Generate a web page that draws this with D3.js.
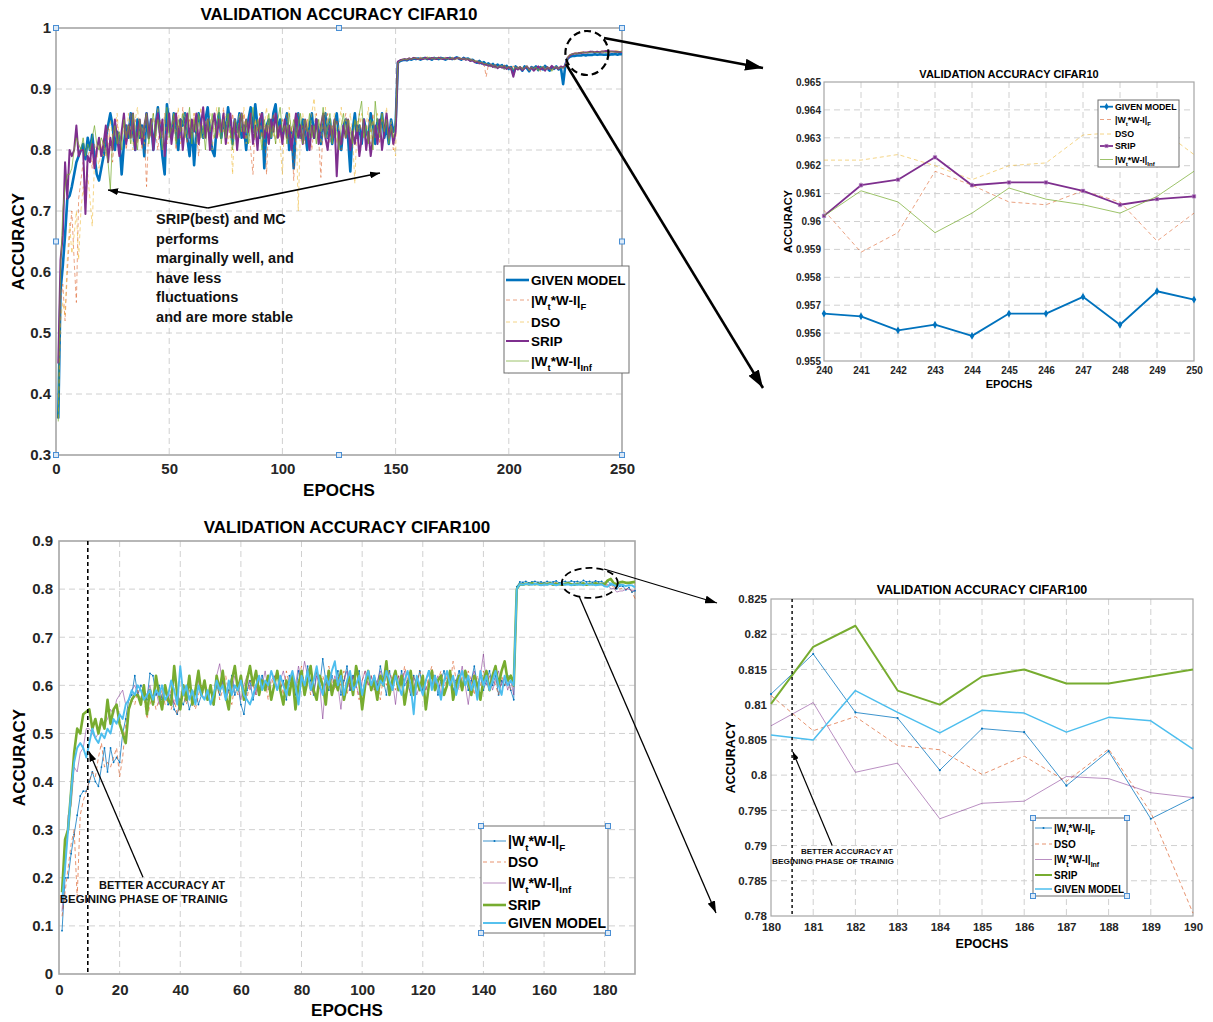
<!DOCTYPE html>
<html>
<head>
<meta charset="utf-8">
<script src="https://cdn.jsdelivr.net/npm/d3@7"></script>
<style>
body { margin: 0; background: #fff; }
text { font-family: Arial, "Liberation Sans", Helvetica, sans-serif; font-weight: bold; }
</style>
</head>
<body>
<svg width="1213" height="1022"></svg>
<script>
// CIFAR10 validation accuracy, epochs 1..250
const top10Given = [
.36,.57,.61,.66,.72,.725,.74,.76,.78,.79,
.80,.81,.785,.82,.80,.825,.79,.76,.75,.77,
.79,.82,.84,.86,.84,.80,.83,.82,.76,.81,
.84,.82,.86,.83,.80,.85,.82,.84,.79,.86,
.82,.85,.80,.84,.87,.83,.79,.76,.875,.84,
.82,.86,.83,.80,.85,.84,.86,.82,.79,.84,
.775,.83,.86,.84,.82,.85,.87,.83,.80,.79,
.84,.86,.82,.85,.83,.87,.84,.81,.85,.83,
.86,.82,.84,.80,.85,.87,.83,.875,.84,.82,
.86,.77,.84,.85,.82,.86,.875,.83,.85,.82,
.84,.86,.80,.83,.77,.84,.86,.82,.85,.83,
.80,.84,.86,.82,.85,.83,.81,.84,.86,.82,
.85,.81,.84,.86,.82,.80,.84,.85,.82,.765,
.83,.86,.82,.84,.81,.85,.83,.82,.86,.84,
.81,.85,.83,.86,.82,.84,.81,.85,.83,.84,
.943,.946,.947,.948,.947,.949,.948,.950,.949,.950,
.948,.950,.951,.949,.950,.948,.951,.950,.949,.951,
.950,.948,.950,.951,.949,.950,.952,.950,.948,.951,
.949,.950,.947,.948,.945,.943,.946,.942,.944,.940,
.942,.938,.941,.936,.940,.937,.939,.934,.938,.933,
.936,.925,.937,.933,.935,.930,.937,.934,.929,.936,
.933,.937,.931,.936,.932,.938,.934,.930,.936,.933,
.937,.932,.935,.908,.940,.950,.953,.954,.954,.955,
.955,.955,.956,.955,.956,.956,.956,.957,.956,.9567,
.9566,.9561,.9563,.9559,.9567,.9567,.9573,.9563,.9575,.9572]
const top10F = [
.36,.55,.58,.52,.60,.66,.70,.62,.55,.72,
.75,.78,.73,.79,.80,.77,.81,.79,.82,.80,
.82,.79,.84,.81,.78,.83,.85,.80,.82,.84,
.80,.83,.86,.82,.85,.81,.84,.80,.83,.74,
.84,.82,.86,.83,.80,.85,.82,.86,.81,.84,
.83,.86,.80,.84,.82,.87,.83,.81,.85,.82,
.86,.83,.79,.84,.87,.82,.85,.80,.84,.86,
.82,.85,.83,.87,.81,.84,.82,.86,.83,.80,
.85,.83,.86,.82,.84,.80,.76,.85,.83,.86,
.82,.84,.76,.85,.83,.86,.81,.84,.82,.85,
.83,.86,.81,.84,.75,.83,.86,.82,.84,.81,
.85,.83,.80,.84,.86,.82,.755,.84,.83,.86,
.81,.84,.82,.85,.83,.80,.84,.86,.82,.84,
.81,.85,.83,.86,.82,.84,.80,.85,.83,.86,
.82,.84,.81,.86,.83,.85,.82,.84,.80,.83,
.944,.947,.948,.949,.948,.950,.949,.951,.950,.949,
.951,.949,.950,.952,.950,.949,.951,.950,.952,.950,
.949,.951,.950,.948,.951,.950,.949,.951,.950,.948,
.950,.947,.949,.945,.947,.943,.945,.941,.943,.920,
.940,.937,.942,.935,.939,.936,.940,.933,.937,.935,
.932,.938,.934,.937,.931,.936,.933,.938,.930,.935,
.937,.932,.936,.929,.935,.938,.933,.936,.931,.937,
.934,.938,.935,.937,.940,.952,.956,.957,.958,.958,
.959,.959,.960,.959,.960,.960,.961,.960,.961,.9604,
.9589,.9596,.9618,.9613,.9607,.9606,.9611,.9607,.9593,.9603]
const top10Dso = [
.36,.52,.55,.53,.62,.68,.63,.66,.70,.62,
.70,.74,.70,.76,.72,.675,.78,.80,.77,.81,
.79,.83,.80,.85,.82,.84,.86,.81,.83,.85,
.82,.86,.83,.80,.85,.87,.82,.84,.81,.86,
.83,.85,.81,.84,.87,.82,.85,.80,.84,.86,
.82,.85,.83,.87,.81,.84,.86,.82,.85,.83,
.86,.81,.84,.87,.82,.85,.83,.86,.80,.84,
.87,.82,.85,.83,.86,.81,.84,.76,.85,.82,
.86,.83,.87,.81,.84,.86,.82,.85,.83,.86,
.81,.84,.87,.83,.85,.82,.86,.84,.81,.76,
.85,.83,.87,.82,.84,.86,.70,.84,.86,.83,
.85,.82,.86,.885,.83,.85,.81,.84,.87,.82,
.85,.83,.86,.81,.84,.87,.82,.85,.83,.86,
.82,.745,.85,.83,.86,.82,.84,.87,.81,.85,
.83,.86,.82,.85,.84,.87,.82,.85,.81,.79,
.944,.948,.949,.950,.949,.951,.950,.952,.951,.950,
.952,.950,.951,.953,.951,.950,.952,.951,.953,.951,
.950,.952,.951,.949,.952,.951,.950,.952,.951,.949,
.951,.948,.950,.946,.948,.944,.946,.942,.944,.939,
.941,.936,.940,.934,.938,.935,.939,.932,.936,.934,
.931,.937,.933,.936,.930,.935,.932,.937,.929,.934,
.936,.931,.935,.928,.934,.937,.932,.935,.930,.936,
.933,.937,.934,.936,.939,.953,.957,.958,.959,.960,
.960,.961,.961,.962,.961,.962,.962,.961,.962,.9622,
.9622,.9624,.9620,.9615,.9620,.9621,.9631,.9632,.9634,.9624]
const top10Srip = [
.45,.62,.66,.78,.72,.80,.79,.80,.84,.79,
.80,.80,.695,.79,.78,.81,.77,.80,.82,.79,
.81,.84,.78,.82,.80,.85,.82,.79,.83,.86,
.81,.84,.82,.86,.80,.83,.85,.81,.84,.86,
.82,.85,.80,.84,.86,.82,.85,.79,.83,.86,
.81,.84,.86,.82,.85,.80,.84,.86,.82,.85,
.83,.86,.81,.84,.87,.82,.85,.80,.84,.86,
.82,.85,.83,.86,.81,.84,.86,.82,.85,.80,
.84,.86,.82,.85,.83,.86,.81,.84,.80,.85,
.86,.82,.84,.81,.85,.83,.86,.82,.84,.81,
.85,.82,.84,.80,.83,.86,.82,.84,.81,.85,
.83,.80,.84,.82,.85,.81,.84,.86,.82,.80,
.84,.82,.85,.757,.83,.81,.84,.82,.85,.80,
.83,.81,.84,.79,.82,.85,.80,.83,.79,.82,
.84,.81,.85,.80,.83,.86,.82,.84,.81,.83,
.945,.947,.948,.949,.948,.950,.949,.951,.950,.949,
.950,.949,.951,.950,.949,.951,.950,.949,.951,.950,
.949,.950,.951,.949,.950,.949,.951,.950,.949,.950,
.948,.949,.946,.947,.944,.945,.942,.943,.940,.941,
.938,.940,.936,.939,.934,.937,.935,.938,.933,.936,
.934,.920,.935,.932,.936,.931,.934,.937,.932,.935,
.930,.934,.937,.932,.935,.930,.936,.933,.938,.934,
.936,.933,.937,.935,.939,.951,.955,.957,.958,.958,
.959,.959,.960,.960,.960,.961,.961,.960,.961,.9602,
.9613,.9615,.9623,.9613,.9614,.9614,.9611,.9606,.9608,.9609]
const top10Inf = [
.355,.60,.70,.74,.76,.76,.77,.80,.82,.81,
.80,.82,.79,.81,.80,.82,.84,.81,.80,.82,
.81,.80,.78,.735,.82,.84,.81,.83,.80,.85,
.82,.84,.81,.86,.83,.80,.85,.82,.84,.86,
.81,.84,.86,.82,.85,.83,.80,.85,.87,.82,
.84,.86,.81,.85,.83,.86,.82,.84,.87,.81,
.85,.83,.86,.82,.84,.80,.85,.83,.86,.82,
.84,.87,.81,.85,.82,.86,.83,.80,.85,.84,
.82,.86,.83,.85,.81,.84,.87,.82,.85,.83,
.80,.85,.83,.86,.82,.84,.81,.85,.87,.83,
.84,.81,.86,.83,.85,.82,.84,.86,.81,.85,
.83,.86,.82,.84,.81,.85,.83,.87,.82,.84,
.86,.81,.85,.83,.80,.84,.86,.82,.85,.83,
.81,.85,.83,.86,.88,.82,.84,.81,.85,.80,
.88,.84,.82,.86,.83,.85,.81,.84,.82,.85,
.943,.946,.948,.949,.948,.950,.949,.950,.951,.949,
.950,.951,.949,.950,.952,.950,.949,.951,.950,.949,
.951,.950,.949,.951,.950,.948,.950,.951,.949,.950,
.948,.950,.947,.948,.945,.946,.943,.944,.941,.942,
.939,.941,.937,.940,.935,.938,.936,.939,.934,.937,
.935,.931,.936,.933,.937,.932,.935,.938,.931,.936,
.933,.936,.930,.935,.937,.932,.936,.934,.929,.935,
.937,.933,.936,.934,.938,.952,.956,.957,.958,.958,
.959,.959,.960,.959,.960,.960,.961,.960,.960,.9602,
.9611,.9607,.9596,.9603,.9612,.9608,.9606,.9603,.9609,.9618]

// CIFAR100 validation accuracy, epochs 1..190
const c100F = [
.09,.20,.20,.25,.29,.33,.37,.38,.38,.40,
.42,.40,.39,.43,.47,.42,.47,.44,.45,.44,
.50,.53,.57,.58,.62,.58,.60,.59,.57,.625,
.62,.58,.60,.57,.59,.56,.58,.55,.54,.57,
.56,.58,.55,.57,.59,.56,.58,.60,.57,.59,
.56,.60,.58,.61,.57,.59,.62,.58,.60,.56,
.54,.59,.61,.57,.60,.58,.62,.59,.61,.58,
.60,.63,.59,.61,.57,.62,.60,.58,.63,.61,
.59,.64,.61,.58,.63,.60,.655,.61,.59,.62,
.60,.63,.58,.61,.64,.59,.62,.60,.63,.58,
.61,.63,.59,.62,.60,.64,.61,.58,.63,.60,
.62,.59,.63,.60,.61,.58,.62,.60,.63,.59,
.61,.63,.60,.62,.58,.61,.63,.60,.62,.59,
.61,.63,.60,.62,.59,.61,.64,.60,.62,.59,
.61,.63,.60,.62,.58,.61,.60,.62,.59,.57,
.805,.815,.814,.816,.813,.815,.816,.814,.815,.813,
.816,.814,.815,.817,.813,.815,.816,.814,.817,.815,
.816,.814,.818,.815,.816,.814,.817,.815,.816,.8115,
.8172,.8089,.8081,.8007,.8066,.8061,.7985,.8034,.7938,.7968]
const c100Dso = [
.12,.17,.22,.27,.30,.16,.33,.36,.38,.40,
.42,.41,.45,.48,.43,.44,.43,.45,.47,.41,
.45,.52,.55,.57,.56,.59,.57,.58,.53,.56,
.58,.55,.57,.59,.56,.58,.55,.57,.54,.56,
.58,.56,.59,.57,.55,.58,.60,.57,.59,.56,
.58,.61,.57,.59,.62,.58,.56,.60,.58,.61,
.59,.57,.61,.60,.58,.62,.59,.61,.57,.60,
.62,.59,.61,.58,.63,.60,.62,.59,.61,.64,
.60,.62,.58,.61,.63,.59,.62,.60,.64,.61,
.59,.62,.60,.63,.58,.61,.62,.60,.57,.61,
.63,.60,.62,.59,.61,.57,.62,.60,.63,.61,
.59,.62,.60,.64,.61,.58,.62,.60,.63,.61,
.59,.62,.64,.60,.61,.63,.59,.62,.60,.65,
.61,.59,.62,.60,.63,.61,.58,.62,.60,.63,
.61,.59,.62,.60,.58,.62,.60,.61,.59,.60,
.800,.812,.811,.813,.810,.812,.811,.813,.812,.810,
.813,.811,.812,.814,.810,.812,.813,.811,.812,.810,
.812,.811,.813,.810,.812,.811,.813,.810,.812,.8113,
.8063,.8083,.8042,.8036,.8001,.8027,.7991,.8037,.7947,.7804]
const c100Inf = [
.13,.22,.33,.35,.43,.42,.46,.47,.51,.51,
.50,.49,.50,.52,.52,.53,.55,.54,.57,.58,
.59,.56,.57,.59,.60,.58,.57,.59,.58,.60,
.57,.59,.56,.58,.60,.57,.59,.56,.58,.57,
.59,.60,.57,.59,.58,.61,.58,.60,.57,.59,
.58,.62,.645,.60,.58,.61,.59,.62,.60,.57,
.60,.62,.59,.61,.58,.62,.60,.63,.59,.61,
.62,.59,.61,.63,.60,.58,.62,.60,.64,.61,
.65,.62,.60,.58,.62,.60,.53,.61,.63,.59,
.62,.60,.55,.61,.63,.59,.62,.60,.58,.61,
.63,.60,.62,.59,.61,.63,.60,.62,.59,.61,
.56,.62,.60,.63,.59,.62,.61,.58,.60,.62,
.59,.61,.63,.60,.62,.58,.61,.63,.60,.62,
.59,.61,.64,.60,.56,.61,.63,.59,.62,.665,
.60,.62,.59,.61,.63,.60,.62,.59,.61,.58,
.800,.810,.809,.811,.808,.810,.809,.811,.810,.808,
.810,.809,.811,.808,.810,.809,.811,.810,.808,.810,
.809,.811,.810,.808,.810,.809,.811,.810,.809,.8070,
.8103,.8004,.8017,.7938,.7960,.7963,.7998,.7995,.7975,.7968]
const c100Srip = [
.17,.28,.30,.38,.46,.51,.50,.54,.545,.55,
.51,.53,.50,.53,.51,.57,.52,.55,.56,.52,
.50,.48,.55,.57,.58,.58,.56,.60,.54,.59,
.56,.62,.58,.55,.60,.57,.56,.64,.58,.55,
.60,.57,.62,.56,.59,.63,.58,.61,.57,.60,
.56,.62,.59,.63,.58,.55,.61,.64,.59,.62,
.57,.61,.64,.60,.63,.58,.61,.59,.62,.57,
.60,.63,.59,.56,.61,.58,.62,.55,.60,.63,
.58,.61,.64,.59,.57,.62,.60,.56,.63,.58,
.61,.59,.63,.57,.60,.62,.58,.64,.61,.55,
.60,.63,.59,.61,.57,.62,.60,.65,.58,.61,
.63,.59,.62,.56,.60,.63,.58,.61,.59,.62,
.55,.60,.63,.59,.61,.62,.58,.60,.63,.57,
.60,.62,.59,.63,.61,.58,.62,.60,.57,.61,
.63,.59,.62,.64,.60,.63,.65,.61,.62,.60,
.800,.810,.809,.811,.810,.812,.810,.811,.809,.811,
.810,.812,.809,.811,.810,.809,.811,.812,.810,.809,
.811,.810,.812,.809,.811,.810,.812,.810,.811,.8101,
.8182,.8212,.812,.810,.814,.815,.813,.813,.814,.815]
const c100Given = [
.15,.22,.30,.38,.44,.47,.48,.47,.45,.48,
.51,.49,.48,.50,.49,.51,.50,.53,.52,.54,
.53,.56,.57,.59,.58,.60,.59,.57,.58,.59,
.57,.59,.58,.60,.57,.58,.61,.59,.56,.64,
.58,.60,.57,.59,.56,.60,.58,.57,.59,.56,
.58,.61,.59,.60,.57,.61,.58,.60,.59,.61,
.58,.57,.56,.58,.60,.62,.59,.61,.60,.63,
.61,.59,.62,.60,.58,.61,.63,.60,.56,.62,
.60,.63,.59,.61,.64,.60,.58,.62,.60,.63,
.65,.60,.62,.58,.61,.63,.59,.60,.62,.58,
.61,.63,.60,.62,.59,.61,.60,.63,.61,.59,
.62,.60,.58,.61,.63,.60,.54,.62,.60,.58,
.61,.63,.59,.62,.60,.57,.61,.63,.60,.62,
.58,.61,.63,.60,.62,.59,.61,.57,.63,.60,
.62,.59,.61,.63,.60,.58,.62,.60,.61,.60,
.800,.810,.809,.811,.810,.809,.811,.810,.808,.810,
.809,.811,.810,.808,.810,.811,.809,.810,.808,.810,
.809,.810,.808,.811,.809,.810,.808,.809,.810,.8057,
.8050,.8120,.8089,.8060,.8092,.8088,.8061,.8082,.8077,.8037]

const namesTop = ["GIVEN MODEL", "|W_{t}*W-I|_{F}", "DSO", "SRIP", "|W_{t}*W-I|_{Inf}"]
const namesBottom = ["|W_{t}*W-I|_{F}", "DSO", "|W_{t}*W-I|_{Inf}", "SRIP", "GIVEN MODEL"]

const xTicksA = [0, 50, 100, 150, 200, 250]
const yTicksA = [0.3, 0.4, 0.5, 0.6, 0.7, 0.8, 0.9, 1]
const xTicksB = [240, 241, 242, 243, 244, 245, 246, 247, 248, 249, 250]
const yTicksB = [0.955, 0.956, 0.957, 0.958, 0.959, 0.96, 0.961, 0.962, 0.963, 0.964, 0.965]
const xTicksC = [0, 20, 40, 60, 80, 100, 120, 140, 160, 180]
const yTicksC = [0, 0.1, 0.2, 0.3, 0.4, 0.5, 0.6, 0.7, 0.8, 0.9]
const xTicksD = [180, 181, 182, 183, 184, 185, 186, 187, 188, 189, 190]
const yTicksD = [0.78, 0.785, 0.79, 0.795, 0.8, 0.805, 0.81, 0.815, 0.82, 0.825]

const noteTop = ["SRIP(best) and MC", "performs", "marginally well, and", "have less", "fluctuations", "and are more stable"]
const noteBottom = ["BETTER ACCURACY AT", "BEGINING PHASE OF TRAINIG"]

const svg = d3.select("svg")
const defs = svg.append("defs")
const fmt = d => String(+d.toFixed(4))

function arrowHead(id, len, wid) {
    defs.append("marker")
        .attr("id", id)
        .attr("markerUnits", "userSpaceOnUse")
        .attr("markerWidth", len)
        .attr("markerHeight", wid)
        .attr("refX", len)
        .attr("refY", wid / 2)
        .attr("orient", "auto")
        .append("path")
        .attr("d", `M0,0L${len},${wid / 2}L0,${wid}Z`)
        .attr("fill", "#000")
}
arrowHead("hBig", 18, 12)
arrowHead("hMid", 12, 8)
arrowHead("hSmall", 10, 7)
arrowHead("hTiny", 8, 6)

function label(x, y, str, fs, rotate) {
    const t = svg.append("text")
        .attr("x", x).attr("y", y)
        .attr("dy", "0.36em")
        .attr("text-anchor", "middle")
        .style("font-size", fs + "px")
        .attr("fill", "#000")
        .text(str)
    if (rotate) t.attr("transform", `rotate(-90,${x},${y})`)
    return t
}

let clipId = 0
function panel(o) {
    const x = d3.scaleLinear().domain(o.xDomain).range([o.left, o.right])
    const y = d3.scaleLinear().domain(o.yDomain).range([o.bottom, o.top])
    const g = svg.append("g")

    g.append("rect")
        .attr("x", o.left).attr("y", o.top)
        .attr("width", o.right - o.left).attr("height", o.bottom - o.top)
        .attr("fill", "#fff")

    g.append("g").selectAll("line")
        .data(o.xTicks.filter(d => d > o.xDomain[0] && d < o.xDomain[1]))
        .enter().append("line")
        .attr("x1", d => x(d)).attr("x2", d => x(d))
        .attr("y1", o.top).attr("y2", o.bottom)
        .attr("stroke", "#d0d0d0").attr("stroke-dasharray", "6,4")

    g.append("g").selectAll("line")
        .data(o.yTicks.filter(d => d > o.yDomain[0] && d < o.yDomain[1]))
        .enter().append("line")
        .attr("y1", d => y(d)).attr("y2", d => y(d))
        .attr("x1", o.left).attr("x2", o.right)
        .attr("stroke", "#d0d0d0").attr("stroke-dasharray", "6,4")

    g.append("rect")
        .attr("x", o.left).attr("y", o.top)
        .attr("width", o.right - o.left).attr("height", o.bottom - o.top)
        .attr("fill", "none").attr("stroke", "#a6a6a6").attr("stroke-width", o.boxW || 1.3)

    const xAxis = g.append("g")
        .attr("transform", `translate(0,${o.bottom})`)
        .call(d3.axisBottom(x).tickValues(o.xTicks).tickSize(0).tickPadding(o.xPad).tickFormat(fmt))
    const yAxis = g.append("g")
        .attr("transform", `translate(${o.left},0)`)
        .call(d3.axisLeft(y).tickValues(o.yTicks).tickSize(0).tickPadding(o.yPad).tickFormat(fmt))
    ;[xAxis, yAxis].forEach(a => {
        a.attr("font-family", null).attr("font-size", null)
        a.select(".domain").remove()
        a.selectAll("text").style("font-size", o.tickFs + "px").attr("fill", "#262626")
    })

    label((o.left + o.right) / 2, o.titleY, o.title, o.titleFs)
    label((o.left + o.right) / 2, o.xlabY, "EPOCHS", o.labFs)
    label(o.ylabX, (o.top + o.bottom) / 2, "ACCURACY", o.labFs, true)

    const id = "clip" + (clipId++)
    defs.append("clipPath").attr("id", id)
        .append("rect")
        .attr("x", o.left - 3).attr("y", o.top - 3)
        .attr("width", o.right - o.left + 6).attr("height", o.bottom - o.top + 6)
    const plot = svg.append("g").attr("clip-path", `url(#${id})`)

    return { x, y, g, plot, o }
}

function handle(x, y) {
    svg.append("rect")
        .attr("x", x - 2.5).attr("y", y - 2.5)
        .attr("width", 5).attr("height", 5)
        .attr("fill", "#dbe9f7").attr("stroke", "#4a8fd4").attr("stroke-width", 1)
}

function marker(sel, kind, color, cx, cy, scale) {
    if (!kind) return
    const size = { diamond: 22, square: 14, dot: 5 }[kind] * (scale || 1)
    const type = { diamond: d3.symbolDiamond, square: d3.symbolSquare, dot: d3.symbolCircle }[kind]
    sel.append("path")
        .attr("d", d3.symbol().type(type).size(size)())
        .attr("transform", `translate(${cx},${cy})`)
        .attr("fill", color)
        .attr("stroke", kind === "square" ? "#b07cc0" : "none")
        .attr("stroke-width", 0.6)
}

function drawSeries(p, s, firstEpoch, width, mark, mscale) {
    const pts = s.vals.map((v, i) => [i + 1, v]).filter(d => d[0] >= firstEpoch)
    const line = d3.line().x(d => p.x(d[0])).y(d => p.y(d[1]))
    p.plot.append("path")
        .attr("d", line(pts))
        .attr("fill", "none")
        .attr("stroke", s.color)
        .attr("stroke-width", width)
        .attr("stroke-opacity", s.op || 1)
        .attr("stroke-dasharray", s.dash || null)
        .attr("stroke-linejoin", "round")
    if (mark) pts.forEach(d => marker(p.plot, mark, s.color, p.x(d[0]), p.y(d[1]), mscale))
}

function parts(str) { return str.split(/_\{([^}]*)\}/) }

function legend(items, o) {
    const g = svg.append("g")
    g.append("rect")
        .attr("x", o.x0).attr("y", o.y0)
        .attr("width", o.x1 - o.x0).attr("height", o.y1 - o.y0)
        .attr("fill", "#fff").attr("stroke", "#6e6e6e").attr("stroke-width", 1)
    items.forEach((s, i) => {
        const yy = o.ys[i]
        g.append("line")
            .attr("x1", o.lx0).attr("x2", o.lx1).attr("y1", yy).attr("y2", yy)
            .attr("stroke", s.color).attr("stroke-width", s.lw)
            .attr("stroke-opacity", s.op || 1)
            .attr("stroke-dasharray", s.dash || null)
        marker(g, s.mark, s.color, (o.lx0 + o.lx1) / 2, yy, o.mscale)
        const t = g.append("text")
            .attr("x", o.tx).attr("y", yy)
            .attr("dy", "0.36em")
            .style("font-size", o.fs + "px")
            .attr("fill", "#000")
        const sh = o.fs * 0.38
        let down = false
        parts(s.name).forEach((txt, k) => {
            if (!txt) return
            const sub = k % 2 === 1
            const ts = t.append("tspan").text(txt)
            if (sub) { ts.attr("dy", sh).style("font-size", (o.fs * 0.7) + "px"); down = true }
            else if (down) { ts.attr("dy", -sh); down = false }
        })
    })
    if (o.handles) {
        ;[[o.x0, o.y0], [o.x1, o.y0], [o.x0, o.y1], [o.x1, o.y1]].forEach(d => handle(d[0], d[1]))
    }
}

function arrow(x1, y1, x2, y2, w, head) {
    svg.append("line")
        .attr("x1", x1).attr("y1", y1).attr("x2", x2).attr("y2", y2)
        .attr("stroke", "#000").attr("stroke-width", w)
        .attr("marker-end", `url(#${head})`)
}

function ellipse(cx, cy, rx, ry, w) {
    svg.append("ellipse")
        .attr("cx", cx).attr("cy", cy).attr("rx", rx).attr("ry", ry)
        .attr("fill", "none").attr("stroke", "#000")
        .attr("stroke-width", w).attr("stroke-dasharray", "7,4")
}

// ---------- series styles ----------
const topSeries = [
    { name: namesTop[0], vals: top10Given, color: "#0072BD", w: 2.6, wz: 1.8, mark: "diamond" },
    { name: namesTop[1], vals: top10F, color: "#D95319", w: 0.9, wz: 0.9, dash: "4,3", op: 0.6 },
    { name: namesTop[2], vals: top10Dso, color: "#EDB120", w: 0.9, wz: 0.9, dash: "4,3", op: 0.6 },
    { name: namesTop[3], vals: top10Srip, color: "#7E2F8E", w: 2.0, wz: 1.8, mark: "square" },
    { name: namesTop[4], vals: top10Inf, color: "#77AC30", w: 0.9, wz: 0.9, op: 0.8 }
]
const bottomSeries = [
    { name: namesBottom[0], vals: c100F, color: "#0072BD", w: 0.9, wz: 0.9, mark: "dot", op: 0.85 },
    { name: namesBottom[1], vals: c100Dso, color: "#D95319", w: 0.9, wz: 0.9, dash: "4,3", op: 0.7 },
    { name: namesBottom[2], vals: c100Inf, color: "#7E2F8E", w: 0.9, wz: 0.9, op: 0.6 },
    { name: namesBottom[3], vals: c100Srip, color: "#77AC30", w: 2.6, wz: 2.0 },
    { name: namesBottom[4], vals: c100Given, color: "#4DBEEE", w: 1.9, wz: 1.5 }
]

// ---------- panel A: CIFAR10 full ----------
const A = panel({
    left: 56, right: 622, top: 28, bottom: 455,
    xDomain: [0, 250], yDomain: [0.3, 1], xTicks: xTicksA, yTicks: yTicksA,
    tickFs: 15, xPad: 8, yPad: 5,
    title: "VALIDATION ACCURACY CIFAR10", titleY: 14, titleFs: 17,
    xlabY: 490, ylabX: 18, labFs: 17, boxW: 1.6
})
topSeries.forEach(s => drawSeries(A, s, 1, s.w))

// ---------- panel B: CIFAR10 zoom ----------
const B = panel({
    left: 824, right: 1194, top: 82, bottom: 361,
    xDomain: [240, 250], yDomain: [0.955, 0.965], xTicks: xTicksB, yTicks: yTicksB,
    tickFs: 10, xPad: 6, yPad: 3,
    title: "VALIDATION ACCURACY CIFAR10", titleY: 74, titleFs: 11,
    xlabY: 384, ylabX: 788, labFs: 11, boxW: 1.2
})
topSeries.forEach(s => drawSeries(B, s, 240, s.wz, s.mark, 0.8))

// ---------- panel C: CIFAR100 full ----------
const C = panel({
    left: 59, right: 635, top: 541, bottom: 974,
    xDomain: [0, 190], yDomain: [0, 0.9], xTicks: xTicksC, yTicks: yTicksC,
    tickFs: 15, xPad: 10, yPad: 6,
    title: "VALIDATION ACCURACY CIFAR100", titleY: 527, titleFs: 17,
    xlabY: 1010, ylabX: 19, labFs: 17, boxW: 1.6
})
bottomSeries.forEach(s => drawSeries(C, s, 1, s.w, s.mark, 0.5))

// ---------- panel D: CIFAR100 zoom ----------
const D = panel({
    left: 771, right: 1193, top: 599, bottom: 916,
    xDomain: [180, 190], yDomain: [0.78, 0.825], xTicks: xTicksD, yTicks: yTicksD,
    tickFs: 11.5, xPad: 7, yPad: 4,
    title: "VALIDATION ACCURACY CIFAR100", titleY: 589, titleFs: 12.5,
    xlabY: 943, ylabX: 730, labFs: 12.5, boxW: 1.2
})
bottomSeries.forEach(s => drawSeries(D, s, 180, s.wz, s.mark, 0.7))

// vertical marker of the early-training phase
const earlyEpochC = 9.5
const earlyEpochD = 180.5
C.plot.append("line")
    .attr("x1", C.x(earlyEpochC)).attr("x2", C.x(earlyEpochC))
    .attr("y1", C.o.top).attr("y2", C.o.bottom)
    .attr("stroke", "#000").attr("stroke-width", 1.6).attr("stroke-dasharray", "4,3")
D.plot.append("line")
    .attr("x1", D.x(earlyEpochD)).attr("x2", D.x(earlyEpochD))
    .attr("y1", D.o.top).attr("y2", D.o.bottom)
    .attr("stroke", "#000").attr("stroke-width", 1.4).attr("stroke-dasharray", "3,3")

// ---------- handles on panel A ----------
;[[A.o.left, A.o.top], [(A.o.left + A.o.right) / 2, A.o.top], [A.o.right, A.o.top],
  [A.o.left, (A.o.top + A.o.bottom) / 2], [A.o.right, (A.o.top + A.o.bottom) / 2],
  [A.o.left, A.o.bottom], [(A.o.left + A.o.right) / 2, A.o.bottom], [A.o.right, A.o.bottom]]
    .forEach(d => handle(d[0], d[1]))

// ---------- legends ----------
legend(topSeries.map(s => ({ name: s.name, color: s.color, lw: s.w, dash: s.dash, op: s.op })), {
    x0: 504, x1: 629, y0: 266, y1: 373, ys: [280, 300, 322, 341, 361],
    lx0: 506, lx1: 529, tx: 531, fs: 13.5
})
legend(topSeries.map(s => ({ name: s.name, color: s.color, lw: s.wz, dash: s.dash, op: s.op, mark: s.mark })), {
    x0: 1098, x1: 1179, y0: 100, y1: 167, ys: [106.7, 119.5, 134, 146, 159.5],
    lx0: 1100, lx1: 1113, tx: 1115, fs: 8.8, mscale: 0.7
})
legend(bottomSeries.map(s => ({ name: s.name, color: s.color, lw: s.w, dash: s.dash, op: s.op, mark: s.mark })), {
    x0: 481, x1: 608, y0: 826, y1: 933, ys: [841, 862, 883, 905, 923],
    lx0: 483, lx1: 506, tx: 508, fs: 14, mscale: 0.6, handles: true
})
legend(bottomSeries.map(s => ({ name: s.name, color: s.color, lw: s.wz, dash: s.dash, op: s.op, mark: s.mark })), {
    x0: 1033, x1: 1127, y0: 818, y1: 896, ys: [828, 844, 859.5, 875, 889],
    lx0: 1035, lx1: 1052, tx: 1054, fs: 10, mscale: 0.6, handles: true
})

// ---------- annotations ----------
noteTop.forEach((line, i) => {
    svg.append("text")
        .attr("x", A.x(44.2)).attr("y", A.y(0.687) + i * 19.5)
        .attr("dy", "0.36em")
        .style("font-size", "14.5px")
        .attr("fill", "#111")
        .text(line)
})
arrow(A.x(67.1), A.y(0.705), A.x(23), A.y(0.7344), 1.6, "hSmall")
arrow(A.x(67.1), A.y(0.705), A.x(143.1), A.y(0.7623), 1.6, "hSmall")

function noteText(p, e, v, str, fs, len) {
    svg.append("text")
        .attr("x", p.x(e)).attr("y", p.y(v))
        .attr("dy", "0.36em")
        .attr("text-anchor", "middle")
        .attr("textLength", len).attr("lengthAdjust", "spacingAndGlyphs")
        .style("font-size", fs + "px")
        .attr("fill", "#111")
        .text(str)
}
noteText(C, 34, 0.1846, noteBottom[0], 11, 126)
noteText(C, 28, 0.1555, noteBottom[1], 11, 168)
arrow(C.x(27.7), C.y(0.201), C.x(9.9), C.y(0.4625), 1.3, "hSmall")
noteText(D, 181.8, 0.78923, noteBottom[0], 8, 92)
noteText(D, 181.47, 0.78781, noteBottom[1], 8, 122)
arrow(D.x(181.45), D.y(0.7900), D.x(180.52), D.y(0.80328), 1.2, "hTiny")

// zoom callouts
ellipse(A.x(234.5), A.y(0.959), 21.5, 22, 2.2)
arrow(604, 38, 763, 68, 2.6, "hBig")
arrow(566, 64, 763, 388, 2.6, "hBig")
ellipse(C.x(175.1), C.y(0.813), 28, 15, 1.8)
arrow(604, 569, 717, 603, 1.3, "hMid")
arrow(579, 596, 716, 913, 1.3, "hMid")
</script>
</body>
</html>
